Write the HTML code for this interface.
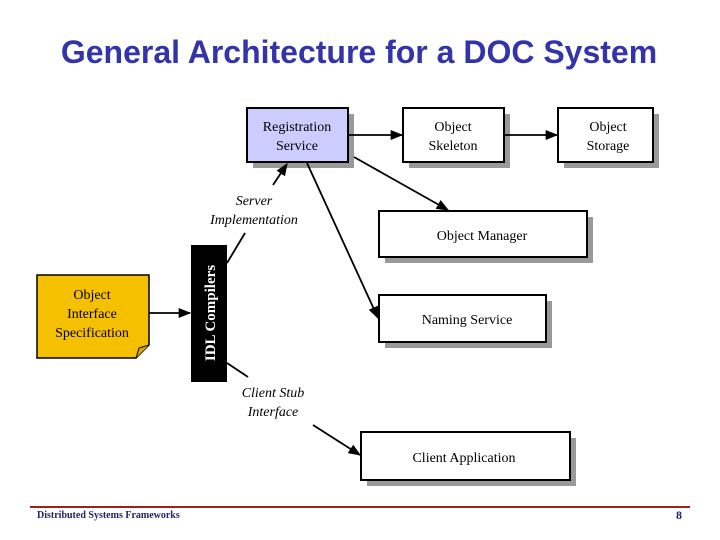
<!DOCTYPE html>
<html><head><meta charset="utf-8"><style>
html,body{margin:0;padding:0;background:#fff;width:720px;height:540px;overflow:hidden}
svg{display:block}
</style></head><body>
<svg width="720" height="540" viewBox="0 0 720 540" xmlns="http://www.w3.org/2000/svg">
<defs>
<marker id="a" viewBox="0 0 10 10" refX="9" refY="5" markerWidth="7" markerHeight="7" orient="auto"><path d="M0,1 L10,5 L0,9 z" fill="#000"/></marker>
</defs>
<text x="359" y="63" text-anchor="middle" font-family="Liberation Sans, sans-serif" font-weight="bold" font-size="32" fill="#3333aa">General Architecture for a DOC System</text>

<g fill="#999">
<rect x="253" y="114" width="101" height="54"/>
<rect x="409" y="114" width="101" height="54"/>
<rect x="564" y="114" width="95" height="54"/>
<rect x="385" y="217" width="208" height="46"/>
<rect x="385" y="301" width="167" height="47"/>
<rect x="367" y="438" width="209" height="48"/>
</g>
<g stroke="#000" stroke-width="2">
<rect x="247" y="108" width="101" height="54" fill="#ccccff"/>
<rect x="403" y="108" width="101" height="54" fill="#fff"/>
<rect x="558" y="108" width="95" height="54" fill="#fff"/>
<rect x="379" y="211" width="208" height="46" fill="#fff"/>
<rect x="379" y="295" width="167" height="47" fill="#fff"/>
<rect x="361" y="432" width="209" height="48" fill="#fff"/>
</g>
<path d="M37,275 H149 V345 L136,358 H37 Z" fill="#f5c000" stroke="#000" stroke-width="1.5"/>
<path d="M136,358 L139,348 L149,345" fill="#d9a800" stroke="#000" stroke-width="1"/>
<rect x="191" y="245" width="36" height="137" fill="#000"/>
<text transform="translate(215,313) rotate(-90)" text-anchor="middle" font-family="Liberation Serif, serif" font-weight="bold" font-size="15" fill="#fff">IDL Compilers</text>

<g font-family="Liberation Serif, serif" font-size="14" text-anchor="middle" fill="#000">
<text x="297" y="131">Registration</text><text x="297" y="150">Service</text>
<text x="453" y="131">Object</text><text x="453" y="150">Skeleton</text>
<text x="608" y="131">Object</text><text x="608" y="150">Storage</text>
<text x="482" y="240">Object Manager</text>
<text x="467" y="324">Naming Service</text>
<text x="464" y="462">Client Application</text>
<text x="92" y="299">Object</text><text x="92" y="318">Interface</text><text x="92" y="337">Specification</text>
</g>
<g font-family="Liberation Serif, serif" font-size="14" font-style="italic" text-anchor="middle" fill="#000">
<text x="254" y="205">Server</text><text x="254" y="224">Implementation</text>
<text x="273" y="397">Client Stub</text><text x="273" y="416">Interface</text>
</g>

<g stroke="#000" stroke-width="1.8" fill="none">
<line x1="348" y1="135" x2="402" y2="135" marker-end="url(#a)"/>
<line x1="504" y1="135" x2="557" y2="135" marker-end="url(#a)"/>
<line x1="354" y1="157" x2="448" y2="210" marker-end="url(#a)"/>
<line x1="307" y1="163" x2="378" y2="318" marker-end="url(#a)"/>
<line x1="273" y1="185" x2="287" y2="164" marker-end="url(#a)"/>
<line x1="227" y1="263" x2="245" y2="233"/>
<line x1="227" y1="363" x2="248" y2="377"/>
<line x1="313" y1="425" x2="360" y2="455" marker-end="url(#a)"/>
<line x1="149" y1="313" x2="190" y2="313" marker-end="url(#a)"/>
</g>

<line x1="30" y1="507" x2="690" y2="507" stroke="#a02020" stroke-width="2"/>
<text x="37" y="518" font-family="Liberation Serif, serif" font-weight="bold" font-size="10" fill="#222266">Distributed Systems Frameworks</text>
<text x="682" y="519" text-anchor="end" font-family="Liberation Serif, serif" font-weight="bold" font-size="12" fill="#222266">8</text>
</svg>
</body></html>
